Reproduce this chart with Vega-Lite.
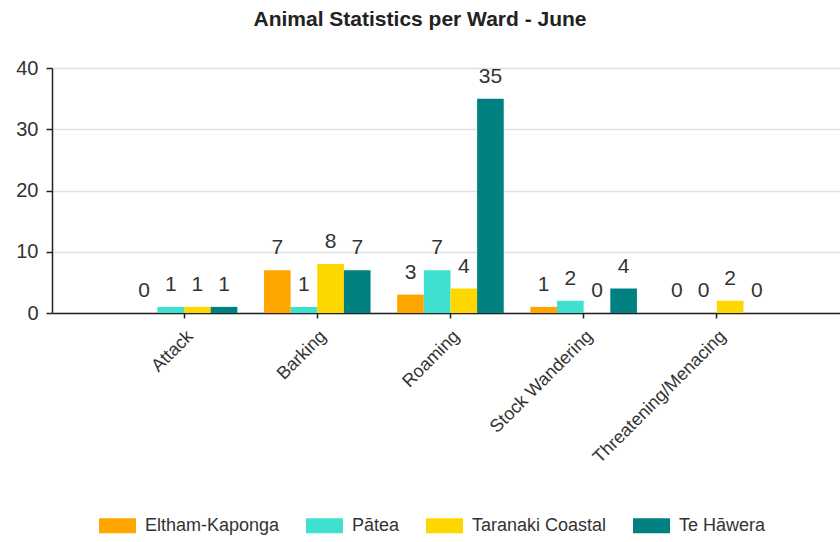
{
  "$schema": "https://vega.github.io/schema/vega-lite/v6.json",
  "width": 788,
  "height": 245,
  "autosize": {"type": "none"},
  "padding": {"left": 52, "top": 68, "right": 0, "bottom": 229},
  "background": "white",
  "title": {
    "text": "Animal Statistics per Ward - June",
    "font": "Liberation Sans",
    "fontSize": 21,
    "fontWeight": "bold",
    "color": "#222222",
    "anchor": "middle",
    "frame": "group",
    "dx": -26,
    "offset": 28
  },
  "config": {
    "view": {"stroke": null},
    "font": "Liberation Sans"
  },
  "data": {
    "values": [
      {"Category": "Attack", "Ward": "Eltham-Kaponga", "Count": 0},
      {"Category": "Attack", "Ward": "Pātea", "Count": 1},
      {"Category": "Attack", "Ward": "Taranaki Coastal", "Count": 1},
      {"Category": "Attack", "Ward": "Te Hāwera", "Count": 1},
      {"Category": "Barking", "Ward": "Eltham-Kaponga", "Count": 7},
      {"Category": "Barking", "Ward": "Pātea", "Count": 1},
      {"Category": "Barking", "Ward": "Taranaki Coastal", "Count": 8},
      {"Category": "Barking", "Ward": "Te Hāwera", "Count": 7},
      {"Category": "Roaming", "Ward": "Eltham-Kaponga", "Count": 3},
      {"Category": "Roaming", "Ward": "Pātea", "Count": 7},
      {"Category": "Roaming", "Ward": "Taranaki Coastal", "Count": 4},
      {"Category": "Roaming", "Ward": "Te Hāwera", "Count": 35},
      {"Category": "Stock Wandering", "Ward": "Eltham-Kaponga", "Count": 1},
      {"Category": "Stock Wandering", "Ward": "Pātea", "Count": 2},
      {"Category": "Stock Wandering", "Ward": "Taranaki Coastal", "Count": 0},
      {"Category": "Stock Wandering", "Ward": "Te Hāwera", "Count": 4},
      {"Category": "Threatening/Menacing", "Ward": "Eltham-Kaponga", "Count": 0},
      {"Category": "Threatening/Menacing", "Ward": "Pātea", "Count": 0},
      {"Category": "Threatening/Menacing", "Ward": "Taranaki Coastal", "Count": 2},
      {"Category": "Threatening/Menacing", "Ward": "Te Hāwera", "Count": 0}
    ]
  },
  "encoding": {
    "x": {
      "field": "Category",
      "type": "nominal",
      "sort": null,
      "scale": {"paddingInner": 0.2, "paddingOuter": 0.558, "align": 0.53},
      "axis": {
        "title": null,
        "labelAngle": -45,
        "labelFontSize": 18,
        "labelColor": "#333333",
        "labelPadding": 9,
        "domainColor": "#222222",
        "domainWidth": 1.5,
        "tickColor": "#222222",
        "tickSize": 5,
        "tickWidth": 1.5,
        "grid": false
      }
    },
    "xOffset": {
      "field": "Ward",
      "type": "nominal",
      "sort": ["Eltham-Kaponga", "Pātea", "Taranaki Coastal", "Te Hāwera"],
      "scale": {"paddingInner": 0, "paddingOuter": 0}
    },
    "y": {
      "field": "Count",
      "type": "quantitative",
      "scale": {"domain": [0, 40], "nice": false},
      "axis": {
        "title": null,
        "values": [0, 10, 20, 30, 40],
        "labelFontSize": 20,
        "labelColor": "#333333",
        "labelPadding": 8,
        "domainColor": "#222222",
        "domainWidth": 1.5,
        "tickColor": "#222222",
        "tickSize": 6,
        "tickWidth": 1.5,
        "grid": true,
        "gridColor": "#e0e0e0",
        "gridWidth": 1.5
      }
    }
  },
  "layer": [
    {
      "mark": {"type": "bar"},
      "encoding": {
        "color": {
          "field": "Ward",
          "type": "nominal",
          "sort": ["Eltham-Kaponga", "Pātea", "Taranaki Coastal", "Te Hāwera"],
          "scale": {
            "domain": ["Eltham-Kaponga", "Pātea", "Taranaki Coastal", "Te Hāwera"],
            "range": ["#FFA500", "#40E0D0", "#FFD700", "#008080"]
          },
          "legend": {
            "title": null,
            "orient": "none",
            "legendX": 47,
            "legendY": 439,
            "direction": "horizontal",
            "symbolType": "M-1,-0.405H1V0.405H-1Z",
            "symbolSize": 1369,
            "symbolStrokeWidth": 0,
            "labelFontSize": 18,
            "labelColor": "#333333",
            "labelOffset": 9,
            "columnPadding": 26
          }
        }
      }
    },
    {
      "mark": {"type": "text", "baseline": "bottom", "dy": -12, "fontSize": 21, "color": "#333333"},
      "encoding": {
        "text": {"field": "Count", "type": "quantitative"}
      }
    }
  ]
}
